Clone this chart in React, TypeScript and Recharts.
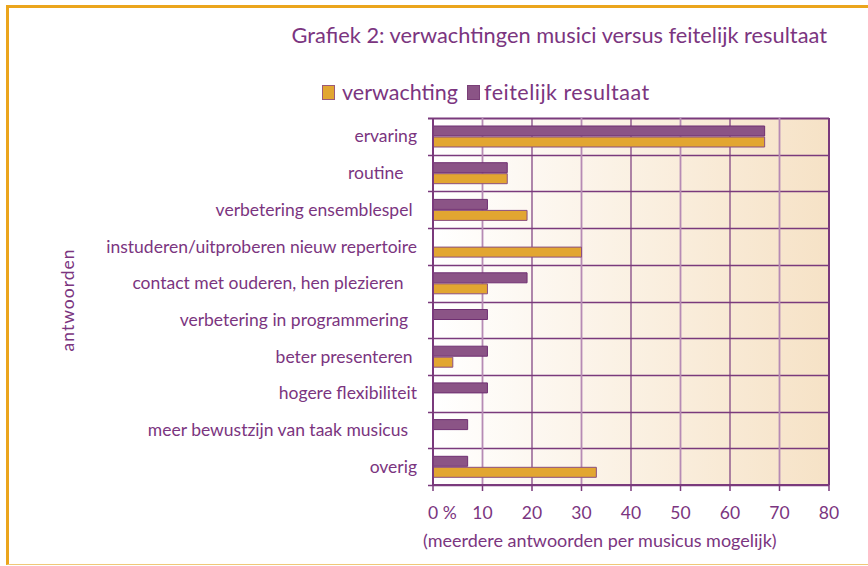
import React from 'react';
import { BarChart, Bar, XAxis, YAxis, CartesianGrid, Legend } from 'recharts';

const categories = [
  'ervaring',
  'routine   ',
  'verbetering ensemblespel ',
  'instuderen/uitproberen nieuw repertoire',
  'contact met ouderen, hen plezieren   ',
  'verbetering in programmering  ',
  'beter presenteren ',
  'hogere flexibiliteit',
  'meer bewustzijn van taak musicus  ',
  'overig',
];
const verwachting = [67, 15, 19, 30, 11, 0, 4, 0, 0, 33];
const feitelijk = [67, 15, 11, 0, 19, 11, 11, 11, 7, 7];
const xTicks = [0, 10, 20, 30, 40, 50, 60, 70, 80];
const seriesVerwachting = 'verwachting';
const seriesFeitelijk = 'feitelijk resultaat';
const chartTitle = 'Grafiek 2: verwachtingen musici versus feitelijk resultaat';
const yTitle = 'antwoorden';
const xCaption = '(meerdere antwoorden per musicus mogelijk)';

const data = categories.map((c, i) => ({ cat: c, verwachting: verwachting[i], feitelijk: feitelijk[i] }));

const TEXT = '#7b3580';
const DARK = '#7a3a7c';
const LIGHT = '#b68ab4';
const ORANGE = '#e2a631';
const PURPLE = '#8b5486';
const FONT = 'Lato, "Open Sans", sans-serif';

const YTick = (props: any) => {
  const { x, y, payload } = props;
  return (
    <text x={x} y={y} dy="0.35em" textAnchor="end" fill={TEXT} fontSize={17.5} fontFamily={FONT} style={{ whiteSpace: 'pre' }}>
      {payload.value}
    </text>
  );
};

const XTick = (props: any) => {
  const { x, y, payload } = props;
  if (payload.value === 0) {
    return (
      <text x={x - 5} y={y} dy="0.71em" textAnchor="start" fill={TEXT} fontSize={17.5} fontFamily={FONT} style={{ whiteSpace: 'pre' }}>
        {'0 %'}
      </text>
    );
  }
  return (
    <text x={x} y={y} dy="0.71em" textAnchor="middle" fill={TEXT} fontSize={17.5} fontFamily={FONT}>
      {String(payload.value)}
    </text>
  );
};

const LegendContent = (props: any) => {
  const payload = [...(props.payload || [])].sort((a: any, b: any) =>
    a.value === seriesVerwachting ? -1 : b.value === seriesVerwachting ? 1 : 0
  );
  return (
    <div style={{ display: 'flex', alignItems: 'center', fontFamily: FONT, fontSize: 21.5, color: TEXT, whiteSpace: 'nowrap' }}>
      {payload.map((p: any) => (
        <span key={p.value} style={{ display: 'inline-flex', alignItems: 'center', marginRight: 9, letterSpacing: p.value === seriesFeitelijk ? 0.5 : 0 }}>
          <span
            style={{
              display: 'inline-block',
              width: 11,
              height: 13,
              background: p.color,
              border: `1px solid ${p.value === seriesVerwachting ? '#9a5a7a' : '#7a3f78'}`,
              marginRight: p.value === seriesVerwachting ? 7 : 4,
            }}
          />
          {p.value}
        </span>
      ))}
    </div>
  );
};

const hLine = (p: any) => (
  <line
    key={`h-${p.index}-${p.y1}`}
    x1={p.x1 - 5}
    x2={p.x2}
    y1={Math.round(p.y1) + 0.5}
    y2={Math.round(p.y2) + 0.5}
    stroke={DARK}
    strokeWidth={p.index === 0 ? 2 : 1.3}
  />
);

const vLine = (p: any) => {
  const idx = typeof p.index === 'number' ? p.index : Math.round(((p.x1 - p.x) / p.width) * 8);
  const last = idx === xTicks.length - 1;
  const light = idx % 2 === 1;
  return (
    <line
      key={`v-${idx}-${p.x1}`}
      x1={p.x1}
      x2={p.x2}
      y1={p.y1}
      y2={p.y2}
      stroke={last ? DARK : light ? LIGHT : DARK}
      strokeWidth={last ? 2 : light ? 1.8 : 1.2}
    />
  );
};

export default function App() {
  return (
    <div style={{ position: 'relative', width: 868, height: 566, background: '#fff', overflow: 'hidden' }}>
      <style>{'body{margin:0}'}</style>
      <div
        style={{
          position: 'absolute',
          top: 5,
          left: 6,
          width: 862,
          height: 560,
          boxSizing: 'border-box',
          borderTop: '3px solid #eba51c',
          borderLeft: '3px solid #eba51c',
          borderBottom: '1px solid #f0c878',
        }}
      />
      <BarChart
        width={868}
        height={566}
        data={data}
        layout="vertical"
        margin={{ top: 118, right: 39, bottom: 51, left: 0 }}
        barGap={1}
        style={{ position: 'absolute', top: 0, left: 0 }}
      >
        <defs>
          <linearGradient id="bgGrad" x1="0" y1="0" x2="1" y2="0">
            <stop offset="0%" stopColor="#ffffff" />
            <stop offset="100%" stopColor="#f6e2c6" />
          </linearGradient>
        </defs>
        <CartesianGrid
          fill="url(#bgGrad)"
          fillOpacity={1}
          horizontalCoordinatesGenerator={({ offset }: any) =>
            Array.from({ length: categories.length + 1 }, (_, i) => offset.top + (offset.height * i) / categories.length)
          }
          horizontal={hLine as any}
          vertical={vLine as any}
        />
        <XAxis
          type="number"
          domain={[0, 80]}
          ticks={xTicks}
          height={30}
          tickSize={6}
          tickMargin={16}
          tick={<XTick />}
          axisLine={{ stroke: DARK, strokeWidth: 2 }}
          tickLine={{ stroke: DARK, strokeWidth: 1.5 }}
          interval={0}
        />
        <YAxis
          type="category"
          dataKey="cat"
          width={433}
          tickLine={false}
          tickSize={0}
          tickMargin={16}
          tick={<YTick />}
          axisLine={{ stroke: DARK, strokeWidth: 2 }}
          interval={0}
        />
        <Legend
          content={<LegendContent />}
          layout="horizontal"
          verticalAlign="middle"
          align="center"
          wrapperStyle={{ top: 79, left: 322, width: 440, height: 28 }}
        />
        <Bar dataKey="feitelijk" name={seriesFeitelijk} fill={PURPLE} stroke="#6f2f72" strokeWidth={1} barSize={10} isAnimationActive={false} />
        <Bar dataKey="verwachting" name={seriesVerwachting} fill={ORANGE} stroke="#8a4f80" strokeWidth={1} barSize={10} isAnimationActive={false} />
      </BarChart>
      <svg width={868} height={566} style={{ position: 'absolute', top: 0, left: 0, pointerEvents: 'none' }}>
        <text x={827} y={43} textAnchor="end" fill={TEXT} fontSize={21.8} fontFamily={FONT}>
          {chartTitle}
        </text>
        <text
          x={0}
          y={0}
          transform="translate(74,300) rotate(-90)"
          textAnchor="middle"
          fill={TEXT}
          fontSize={17.5}
          fontFamily={FONT}
          letterSpacing={1}
        >
          {yTitle}
        </text>
        <text x={423} y={547} textAnchor="start" fill={TEXT} fontSize={18} fontFamily={FONT}>
          {xCaption}
        </text>
      </svg>
    </div>
  );
}
